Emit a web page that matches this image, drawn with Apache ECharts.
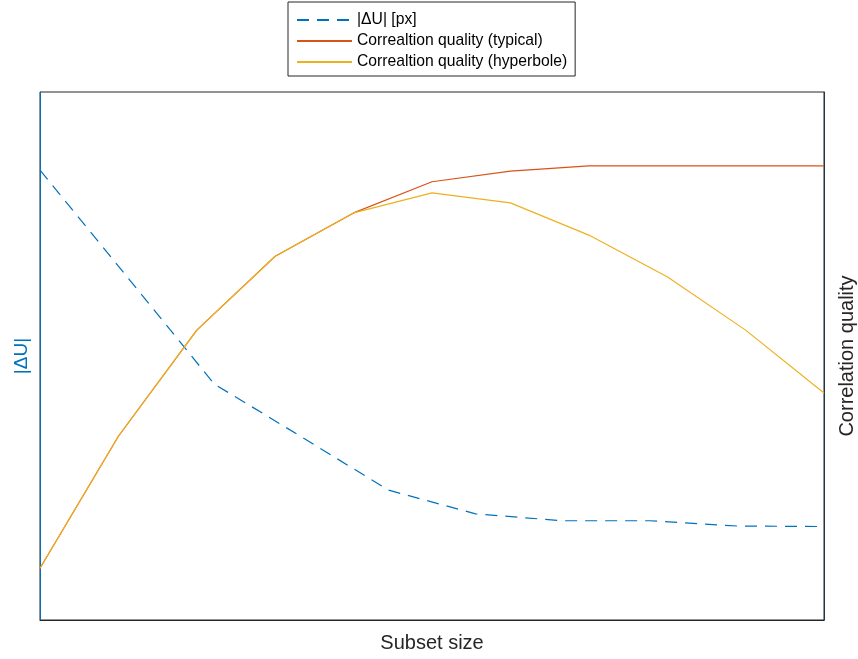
<!DOCTYPE html>
<html>
<head>
<meta charset="utf-8">
<script src="https://cdn.jsdelivr.net/npm/echarts@6/dist/echarts.min.js"></script>
<style>
html,body{margin:0;padding:0;background:#fff;}
#chart{width:858px;height:659px;}
</style>
</head>
<body>
<div id="chart"></div>
<script>
// Data (axes have no tick labels; values normalised 0..1 on each y axis)
const xDeltaU = [0, 1.111, 2.222, 3.333, 4.444, 5.556, 6.667, 7.778, 8.889, 10];
const deltaU = [0.852, 0.650, 0.447, 0.347, 0.246, 0.201, 0.188, 0.188, 0.178, 0.177];
const xQuality = [0, 1, 2, 3, 4, 5, 6, 7, 8, 9, 10];
const qualityTypical = [0.098, 0.348, 0.549, 0.689, 0.771, 0.830, 0.850, 0.860, 0.860, 0.860, 0.860];
const qualityHyperbole = [0.098, 0.348, 0.549, 0.689, 0.771, 0.809, 0.790, 0.729, 0.650, 0.549, 0.430];
const seriesNames = ['|\u0394U| [px]', 'Correaltion quality (typical)', 'Correaltion quality (hyperbole)'];

const FONT = '"Liberation Sans", Arial, Helvetica, sans-serif';
const pairs = (xs, ys) => xs.map((x, i) => [x, ys[i]]);

const chart = echarts.init(document.getElementById('chart'), null, {renderer: 'canvas'});
chart.setOption({
  animation: false,
  backgroundColor: '#ffffff',
  textStyle: {fontFamily: FONT},
  grid: {left: 40, right: 34, top: 92, bottom: 39, outerBoundsMode: 'none', containLabel: false,
         show: true, borderColor: '#262626', borderWidth: 1, backgroundColor: 'transparent'},
  legend: {
    orient: 'vertical',
    left: 288, top: 2,
    padding: [10, 8, 6, 8],
    itemGap: 5,
    itemWidth: 55, itemHeight: 15,
    borderColor: '#262626', borderWidth: 1,
    backgroundColor: '#ffffff',
    itemStyle: {opacity: 0},
    textStyle: {fontFamily: FONT, fontSize: 15.7, color: '#000000'},
    data: seriesNames
  },
  xAxis: {
    type: 'value', min: 0, max: 10,
    name: 'Subset size', nameLocation: 'middle', nameGap: 13,
    nameTextStyle: {fontFamily: FONT, fontSize: 20, color: '#262626', verticalAlign: 'top'},
    axisLine: {show: true, lineStyle: {color: '#262626', width: 1}},
    axisTick: {show: false}, axisLabel: {show: false}, splitLine: {show: false}
  },
  yAxis: [
    {
      type: 'value', min: 0, max: 1, position: 'left',
      name: '|\u0394U|', nameLocation: 'middle', nameGap: 9, nameRotate: 90,
      nameTextStyle: {fontFamily: FONT, fontSize: 19, color: '#0072BD'},
      axisLine: {show: true, lineStyle: {color: '#0072BD', width: 1}},
      axisTick: {show: false}, axisLabel: {show: false}, splitLine: {show: false}
    },
    {
      type: 'value', min: 0, max: 1, position: 'right',
      name: 'Correlation quality', nameLocation: 'middle', nameGap: 13, nameRotate: 90,
      nameTextStyle: {fontFamily: FONT, fontSize: 20, color: '#262626'},
      axisLine: {show: true, lineStyle: {color: '#263545', width: 1}},
      axisTick: {show: false}, axisLabel: {show: false}, splitLine: {show: false}
    }
  ],
  series: [
    {
      name: seriesNames[0], type: 'line', yAxisIndex: 0, symbol: 'none',
      data: pairs(xDeltaU, deltaU),
      lineStyle: {color: '#0072BD', width: 1.2, type: [12, 8]},
      itemStyle: {color: '#0072BD'}
    },
    {
      name: seriesNames[1], type: 'line', yAxisIndex: 1, symbol: 'none',
      data: pairs(xQuality, qualityTypical),
      lineStyle: {color: '#D95319', width: 1.2},
      itemStyle: {color: '#D95319'}
    },
    {
      name: seriesNames[2], type: 'line', yAxisIndex: 1, symbol: 'none',
      data: pairs(xQuality, qualityHyperbole),
      lineStyle: {color: '#EDB120', width: 1.2},
      itemStyle: {color: '#EDB120'}
    }
  ]
});
</script>
</body>
</html>
